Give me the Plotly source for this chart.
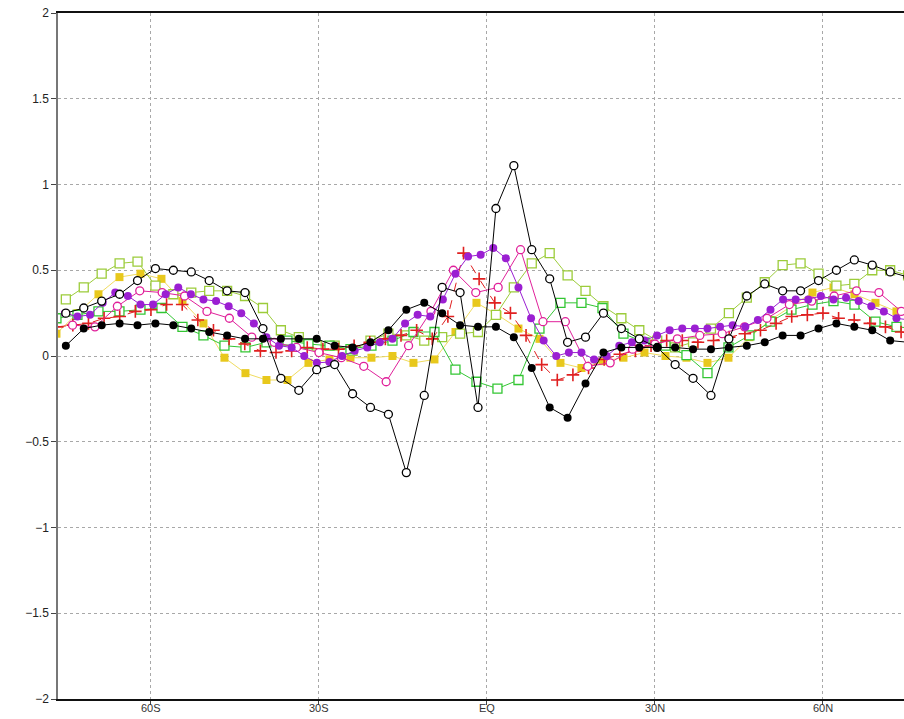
import plotly.graph_objects as go

# ---------------- data ----------------
# latitude grids of the different series (degrees, S negative)
lat_g32 = [-75.2 + 3.2 * i for i in range(48)]
lat_g225 = [-75.375 + 2.25 * i for i in range(68)]
lat_g4 = [-74 + 4 * i for i in range(38)]
lat_g375 = [-76.875 + 3.75 * i for i in range(42)]
lat_t42 = [-76.74, -73.95, -71.16, -68.37, -65.58, -62.79, -60.00, -57.21, -54.42, -51.63,
           -48.84, -46.05, -43.25, -40.46, -37.67, -34.88, -32.09, -29.30, -26.51, -23.72,
           -20.93, -18.14, -15.35, -12.56, -9.77, -6.98, -4.19, -1.40, 1.40, 4.19,
           6.98, 9.77, 12.56, 15.35, 18.14, 20.93, 23.72, 26.51, 29.30, 32.09,
           34.88, 37.67, 40.46, 43.25, 46.05, 48.84, 51.63, 54.42, 57.21, 60.00,
           62.79, 65.58, 68.37, 71.16, 73.95, 76.74]

black_filled = [0.06, 0.16, 0.18, 0.19, 0.18, 0.19, 0.18, 0.16, 0.14, 0.12,
                0.10, 0.10, 0.10, 0.10, 0.10, 0.06, 0.05, 0.08, 0.15, 0.27,
                0.31, 0.25, 0.18, 0.17, 0.17, 0.11, -0.07, -0.30, -0.36, -0.16,
                0.02, 0.05, 0.05, 0.05, 0.05, 0.04, 0.04, 0.05, 0.06, 0.08,
                0.12, 0.12, 0.16, 0.19, 0.17, 0.15, 0.09, 0.08]

black_open = [0.25, 0.28, 0.32, 0.36, 0.44, 0.51, 0.50, 0.49, 0.44, 0.38,
              0.37, 0.16, -0.13, -0.20, -0.08, -0.05, -0.22, -0.30, -0.34, -0.68,
              -0.23, 0.40, 0.37, -0.30, 0.86, 1.11, 0.62, 0.45, 0.08, 0.11,
              0.25, 0.16, 0.10, 0.05, -0.05, -0.13, -0.23, 0.10, 0.35, 0.42,
              0.38, 0.38, 0.44, 0.50, 0.56, 0.53, 0.49, 0.46]

purple_filled = [0.25, 0.23, 0.24, 0.31, 0.37, 0.35, 0.30, 0.30, 0.36, 0.40,
                 0.36, 0.33, 0.32, 0.29, 0.25, 0.19, 0.11, 0.06, 0.05, 0.00,
                 -0.04, -0.035, 0.00, 0.03, 0.05, 0.08, 0.10, 0.19, 0.24, 0.23,
                 0.33, 0.48, 0.58, 0.59, 0.63, 0.57, 0.40, 0.22, 0.09, 0.00,
                 0.02, 0.02, -0.02, 0.00, 0.06, 0.08, 0.09, 0.12, 0.15, 0.16,
                 0.16, 0.16, 0.17, 0.18, 0.17, 0.21, 0.27, 0.33, 0.33, 0.33,
                 0.35, 0.33, 0.34, 0.32, 0.29, 0.26, 0.22, 0.21]

magenta_open = [0.18, 0.17, 0.29, 0.38, 0.37, 0.35, 0.26, 0.22, 0.11, 0.08,
                0.05, 0.02, -0.01, -0.06, -0.15, 0.06, 0.26, 0.50, 0.37, 0.40,
                0.62, 0.20, 0.20, -0.06, -0.04, 0.04, 0.07, 0.10, 0.12, 0.13,
                0.17, 0.22, 0.30, 0.32, 0.35, 0.38, 0.37, 0.26]

red_plus = [0.17, 0.18, 0.19, 0.22, 0.23, 0.26, 0.27, 0.30, 0.30, 0.21,
            0.15, 0.10, 0.07, 0.03, 0.02, 0.03, 0.05, 0.04, 0.04, 0.06,
            0.08, 0.10, 0.12, 0.15, 0.10, 0.23, 0.60, 0.45, 0.31, 0.25,
            0.12, -0.05, -0.14, -0.11, -0.07, -0.02, 0.01, 0.03, 0.06, 0.09,
            0.09, 0.08, 0.09, 0.11, 0.13, 0.15, 0.19, 0.23, 0.24, 0.25,
            0.22, 0.21, 0.19, 0.17, 0.14, 0.12]

yellow_filled = [0.13, 0.25, 0.36, 0.46, 0.48, 0.45, 0.32, 0.19, -0.01, -0.10,
                 -0.14, -0.14, -0.04, -0.02, -0.01, -0.01, 0.00, -0.04, -0.02, 0.14,
                 0.31, 0.24, 0.16, 0.10, -0.04, -0.07, -0.03, -0.01, 0.02, 0.00,
                 -0.01, -0.04, -0.01, 0.11, 0.21, 0.29, 0.37, 0.40, 0.36, 0.31,
                 0.26, 0.22]

green_open = [0.22, 0.24, 0.26, 0.26, 0.27, 0.28, 0.17, 0.12, 0.06, 0.05,
              0.08, 0.09, 0.07, 0.06, 0.04, 0.06, 0.09, 0.14, 0.14, -0.08,
              -0.15, -0.19, -0.14, 0.16, 0.31, 0.31, 0.28, 0.13, 0.08, 0.06,
              0.005, -0.10, 0.05, 0.12, 0.20, 0.27, 0.30, 0.32, 0.30, 0.20,
              0.17, 0.16]

lightgreen_open = [0.33, 0.40, 0.48, 0.54, 0.55, 0.41, 0.36, 0.37, 0.38, 0.38,
                   0.35, 0.28, 0.15, 0.11, 0.06, 0.06, 0.03, 0.09, 0.13, 0.12,
                   0.09, 0.11, 0.13, 0.14, 0.24, 0.40, 0.54, 0.60, 0.47, 0.38,
                   0.29, 0.22, 0.15, 0.09, 0.05, 0.08, 0.16, 0.25, 0.34, 0.43,
                   0.53, 0.54, 0.48, 0.41, 0.42, 0.50, 0.50, 0.47]

x_tick_vals = [-60, -30, 0, 30, 60]
x_tick_text = ["60S", "30S", "EQ", "30N", "60N"]
y_tick_vals = [-2, -1.5, -1, -0.5, 0, 0.5, 1, 1.5, 2]

# ---------------- figure ----------------
fig = go.Figure()


def add(x, y, color, symbol, size, filled, dash="solid", line_color=None, lw=1.0):
    if filled:
        marker = dict(symbol=symbol, size=size, color=color, line=dict(width=0))
    else:
        marker = dict(symbol=symbol, size=size, color="white", line=dict(color=color, width=1.3))
    fig.add_trace(go.Scatter(
        x=x, y=y, mode="lines+markers",
        line=dict(color=line_color or color, width=lw, dash=dash),
        marker=marker, showlegend=False, hoverinfo="skip"))


add(lat_g375, yellow_filled, "#e8c81c", "square", 8, True, line_color="#f0dc60")
add(lat_g32, lightgreen_open, "#9ccc3a", "square", 9, False)
add(lat_g375, green_open, "#33c633", "square", 9, False)
add(lat_t42, red_plus, "#e02020", "cross-thin", 9, False, dash="dash")
add(lat_g4, magenta_open, "#e0209a", "circle", 8, False)
add(lat_g225, purple_filled, "#9b1fd2", "circle", 8, True)
add(lat_g32, black_open, "#000000", "circle", 8, False)
add(lat_g32, black_filled, "#000000", "circle", 8, True)

# red cross marker needs colored line
fig.data[3].marker.line.width = 1.6
fig.data[3].marker.color = "#e02020"

# x tick labels as annotations placed tight under the axis
for v, t in zip(x_tick_vals, x_tick_text):
    fig.add_annotation(x=v, y=0, xref="x", yref="paper", text=t, showarrow=False,
                       yanchor="top", yshift=-1,
                       font=dict(family="Liberation Sans Narrow, Liberation Sans, Arial, sans-serif",
                                 size=11, color="#333"))

fig.update_layout(
    width=904, height=719,
    margin=dict(l=58, r=0, t=13, b=20),
    paper_bgcolor="white", plot_bgcolor="white",
    font=dict(family="Liberation Sans, Arial, sans-serif", size=12, color="#222"),
)
fig.update_xaxes(
    range=[-76.6, 74.47],
    tickvals=x_tick_vals, showticklabels=False,
    showgrid=True, gridcolor="#a8a8a8", griddash="dot", gridwidth=1,
    showline=True, linecolor="#111", linewidth=2, mirror=True,
    ticks="outside", ticklen=4, tickcolor="#444",
    zeroline=False,
)
fig.update_yaxes(
    range=[-2, 2],
    tickvals=y_tick_vals,
    showgrid=True, gridcolor="#a8a8a8", griddash="dot", gridwidth=1,
    showline=True, linecolor="#777", linewidth=1.5,
    ticks="outside", ticklen=5, tickcolor="#444",
    tickfont=dict(size=12), zeroline=False,
)

fig.write_html(
    "out.html",
    config={"displayModeBar": False},
    post_script="document.body.style.margin='0';document.body.style.overflow='hidden';",
)
